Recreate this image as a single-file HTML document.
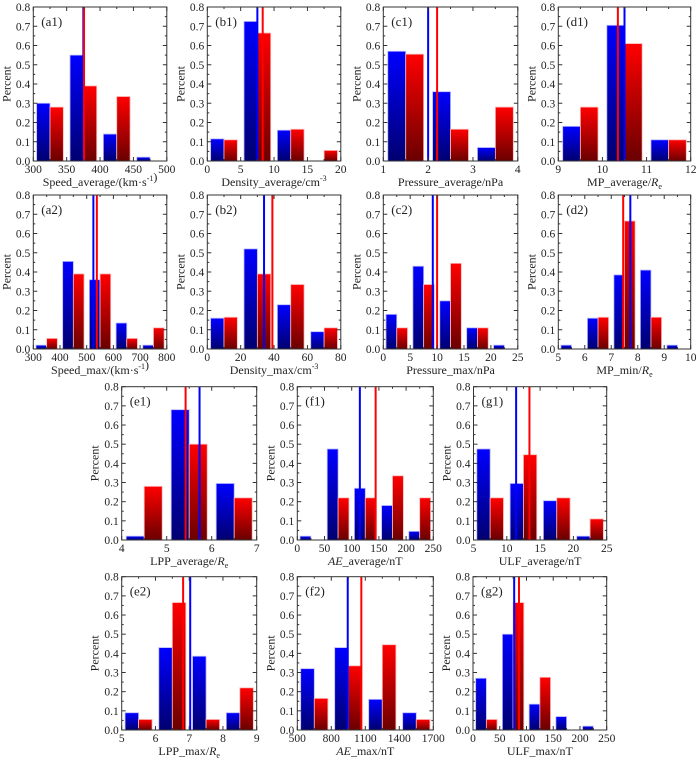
<!DOCTYPE html>
<html><head><meta charset="utf-8">
<style>
html,body{margin:0;padding:0;background:#fff;}
text{font-family:"Liberation Serif","Times New Roman",serif;fill:#222;}
</style></head>
<body>
<svg id="fig" width="700" height="758" viewBox="0 0 700 758" xmlns="http://www.w3.org/2000/svg" font-family="Liberation Serif, serif">
<defs>
<linearGradient id="gb" x1="0" y1="0" x2="0" y2="1"><stop offset="0" stop-color="#0000ff"/><stop offset="1" stop-color="#000070"/></linearGradient>
<linearGradient id="gr" x1="0" y1="0" x2="0" y2="1"><stop offset="0" stop-color="#ff0000"/><stop offset="1" stop-color="#6a0000"/></linearGradient>
</defs>
</svg>
<script>
// ---- data arrays ----
const a1Centers=[325,375,425,475], a1Blue=[0.30,0.55,0.14,0.02], a1Red=[0.28,0.39,0.335,0], a1Means=[375,376];
const b1Centers=[2.5,7.5,12.5,17.5], b1Blue=[0.115,0.725,0.16,0], b1Red=[0.11,0.665,0.165,0.055], b1Means=[7.5,8.3];
const c1Centers=[1.5,2.5,3.5], c1Blue=[0.57,0.36,0.07], c1Red=[0.555,0.165,0.28], c1Means=[2.0,2.2];
const d1Centers=[9.5,10.5,11.5], d1Blue=[0.18,0.705,0.11], d1Red=[0.28,0.61,0.11], d1Means=[10.5,10.35];
const a2Centers=[350,450,550,650,750], a2Blue=[0.02,0.455,0.36,0.135,0.02], a2Red=[0.055,0.39,0.39,0.055,0.11], a2Means=[525,538];
const b2Centers=[10,30,50,70], b2Blue=[0.16,0.52,0.23,0.09], b2Red=[0.165,0.39,0.335,0.11], b2Means=[34,39];
const c2Centers=[2.5,7.5,12.5,17.5,22.5], c2Blue=[0.18,0.43,0.25,0.11,0.02], c2Red=[0.11,0.335,0.445,0.11,0], c2Means=[9.2,10];
const d2Centers=[5.5,6.5,7.5,8.5,9.5], d2Blue=[0.02,0.16,0.385,0.41,0.02], d2Red=[0,0.165,0.665,0.165,0], d2Means=[7.72,7.45];
const e1Centers=[4.5,5.5,6.5], e1Blue=[0.02,0.68,0.295], e1Red=[0.28,0.50,0.22], e1Means=[5.73,5.42];
const f1Centers=[25,75,125,175,225], f1Blue=[0.02,0.475,0.27,0.18,0.045], f1Red=[0,0.22,0.22,0.335,0.22], f1Means=[115,144];
const g1Centers=[7.5,12.5,17.5,22.5], g1Blue=[0.475,0.295,0.205,0.02], g1Red=[0.22,0.445,0.22,0.11], g1Means=[11.4,13.4];
const e2Centers=[5.5,6.5,7.5,8.5], e2Blue=[0.09,0.43,0.385,0.09], e2Red=[0.055,0.665,0.055,0.22], e2Means=[7.03,6.82];
const f2Centers=[650,950,1250,1550], f2Blue=[0.32,0.43,0.16,0.09], f2Red=[0.165,0.335,0.445,0.055], f2Means=[945,1065];
const g2Centers=[25,75,125,175,225], g2Blue=[0.27,0.50,0.135,0.07,0.02], g2Red=[0.055,0.665,0.275,0,0], g2Means=[77,86];
const a1Ticks=[300,350,400,450,500], b1Ticks=[0,5,10,15,20], c1Ticks=[1,2,3,4], d1Ticks=[9,10,11,12];
const a2Ticks=[300,400,500,600,700,800], b2Ticks=[0,20,40,60,80], c2Ticks=[0,5,10,15,20,25], d2Ticks=[5,6,7,8,9,10];
const e1Ticks=[4,5,6,7], f1Ticks=[0,50,100,150,200,250], g1Ticks=[5,10,15,20,25];
const e2Ticks=[5,6,7,8,9], f2Ticks=[500,800,1100,1400,1700], g2Ticks=[0,50,100,150,200,250];
const yTicks=[0,0.1,0.2,0.3,0.4,0.5,0.6,0.7,0.8];

const NS='http://www.w3.org/2000/svg';
const svg=document.getElementById('fig');
const FF='"Liberation Serif", serif';
function mk(tag,attrs,parent){const e=document.createElementNS(NS,tag);for(const k in attrs)e.setAttribute(k,attrs[k]);if(tag==='text')e.style.fontFamily=FF;(parent||svg).appendChild(e);return e;}

function panel(id,L,T,W,H,xmin,xmax,binW,centers,blue,red,means,ticks,labelHTML){
  const g=mk('g',{});
  
  
  const sx=v=>L+(v-xmin)/(xmax-xmin)*W;
  const sy=v=>T+H-(v/0.8)*H;
  const bw=0.4*binW;
  centers.forEach((c,i)=>{
    if(blue[i]>0){
      const r=mk('rect',{x:sx(c-bw),y:sy(blue[i]),width:sx(c)-sx(c-bw),height:sy(0)-sy(blue[i]),fill:'url(#gb)',stroke:'#b8b8ff','stroke-width':0.8},g);
      
      
    }
    if(red[i]>0){
      const r=mk('rect',{x:sx(c),y:sy(red[i]),width:sx(c+bw)-sx(c),height:sy(0)-sy(red[i]),fill:'url(#gr)',stroke:'#ffb8b8','stroke-width':0.8},g);
      
      
    }
  });
  const lb=mk('line',{x1:sx(means[0]),x2:sx(means[0]),y1:T,y2:T+H,stroke:'#0000ff','stroke-width':2},g);
  
  
  const lr=mk('line',{x1:sx(means[1]),x2:sx(means[1]),y1:T,y2:T+H,stroke:'#ff0000','stroke-width':2},g);
  
  
  const fr=mk('rect',{x:L,y:T,width:W,height:H,fill:'none',stroke:'#333','stroke-width':1},g);
  
  
  yTicks.forEach(v=>{
    const y=sy(v);
    mk('line',{x1:L,x2:L+4,y1:y,y2:y,stroke:'#333'},g);
    mk('line',{x1:L+W,x2:L+W-4,y1:y,y2:y,stroke:'#333'},g);
    if(v<0.8){const ym=sy(v+0.05);mk('line',{x1:L,x2:L+2,y1:ym,y2:ym,stroke:'#333'},g);mk('line',{x1:L+W,x2:L+W-2,y1:ym,y2:ym,stroke:'#333'},g);}
    const t=mk('text',{x:L-3,y:y+4,'text-anchor':'end','font-size':11.5},g);
    t.textContent=v.toFixed(1);
    
    
  });
  ticks.forEach((v,i)=>{
    const x=sx(v);
    mk('line',{x1:x,x2:x,y1:T+H,y2:T+H-4,stroke:'#333'},g);
    mk('line',{x1:x,x2:x,y1:T,y2:T+4,stroke:'#333'},g);
    if(i<ticks.length-1){const xm=sx((v+ticks[i+1])/2);mk('line',{x1:xm,x2:xm,y1:T+H,y2:T+H-2,stroke:'#333'},g);mk('line',{x1:xm,x2:xm,y1:T,y2:T+2,stroke:'#333'},g);}
    const t=mk('text',{x:x,y:T+H+12,'text-anchor':'middle','font-size':11.5},g);
    t.textContent=String(v);
    
    
  });
  const yl=mk('text',{x:0,y:0,'text-anchor':'middle','font-size':12,transform:`translate(${L-23},${T+H/2}) rotate(-90)`},g);
  yl.textContent='Percent';
  
  
  const xl=mk('text',{x:L+W/2,y:T+H+25,'text-anchor':'middle','font-size':12},g);
  xl.innerHTML=labelHTML;
  
  
  const tt=mk('text',{x:L+8,y:T+19,'font-size':13},g);
  tt.textContent='('+id+')';
  
  
}
const sup=s=>`<tspan dy="-5" font-size="8">${s}</tspan><tspan dy="5"></tspan>`;
const Re='<tspan font-style="italic">R</tspan><tspan dy="3" font-size="8">e</tspan>';
const W4=133.5, H=154;
panel('a1',33.3,7,W4,H,300,500,50,a1Centers,a1Blue,a1Red,a1Means,a1Ticks,'Speed_average/(km·s'+sup('-1')+')');
panel('b1',207.3,7,W4,H,0,20,5,b1Centers,b1Blue,b1Red,b1Means,b1Ticks,'Density_average/cm'+sup('-3'));
panel('c1',383.3,7,W4+1,H,1,4,1,c1Centers,c1Blue,c1Red,c1Means,c1Ticks,'Pressure_average/nPa');
panel('d1',558.3,7,132.4,H,9,12,1,d1Centers,d1Blue,d1Red,d1Means,d1Ticks,'MP_average/'+Re);
panel('a2',33.3,195,W4,H,300,800,100,a2Centers,a2Blue,a2Red,a2Means,a2Ticks,'Speed_max/(km·s'+sup('-1')+')');
panel('b2',207.3,195,W4,H,0,80,20,b2Centers,b2Blue,b2Red,b2Means,b2Ticks,'Density_max/cm'+sup('-3'));
panel('c2',383.3,195,W4+1,H,0,25,5,c2Centers,c2Blue,c2Red,c2Means,c2Ticks,'Pressure_max/nPa');
panel('d2',558.3,195,132.4,H,5,10,1,d2Centers,d2Blue,d2Red,d2Means,d2Ticks,'MP_min/'+Re);
panel('e1',121.7,386.7,135,153.3,4,7,1,e1Centers,e1Blue,e1Red,e1Means,e1Ticks,'LPP_average/'+Re);
panel('f1',297.3,386.7,136,153.3,0,250,50,f1Centers,f1Blue,f1Red,f1Means,f1Ticks,'<tspan font-style="italic">AE</tspan>_average/nT');
panel('g1',473.5,386.7,133.2,153.3,5,25,5,g1Centers,g1Blue,g1Red,g1Means,g1Ticks,'ULF_average/nT');
panel('e2',121.7,576.7,135,153.3,5,9,1,e2Centers,e2Blue,e2Red,e2Means,e2Ticks,'LPP_max/'+Re);
panel('f2',297.3,576.7,136,153.3,500,1700,300,f2Centers,f2Blue,f2Red,f2Means,f2Ticks,'<tspan font-style="italic">AE</tspan>_max/nT');
panel('g2',473.0,576.7,133.7,153.3,0,250,50,g2Centers,g2Blue,g2Red,g2Means,g2Ticks,'ULF_max/nT');
</script>
</body></html>
